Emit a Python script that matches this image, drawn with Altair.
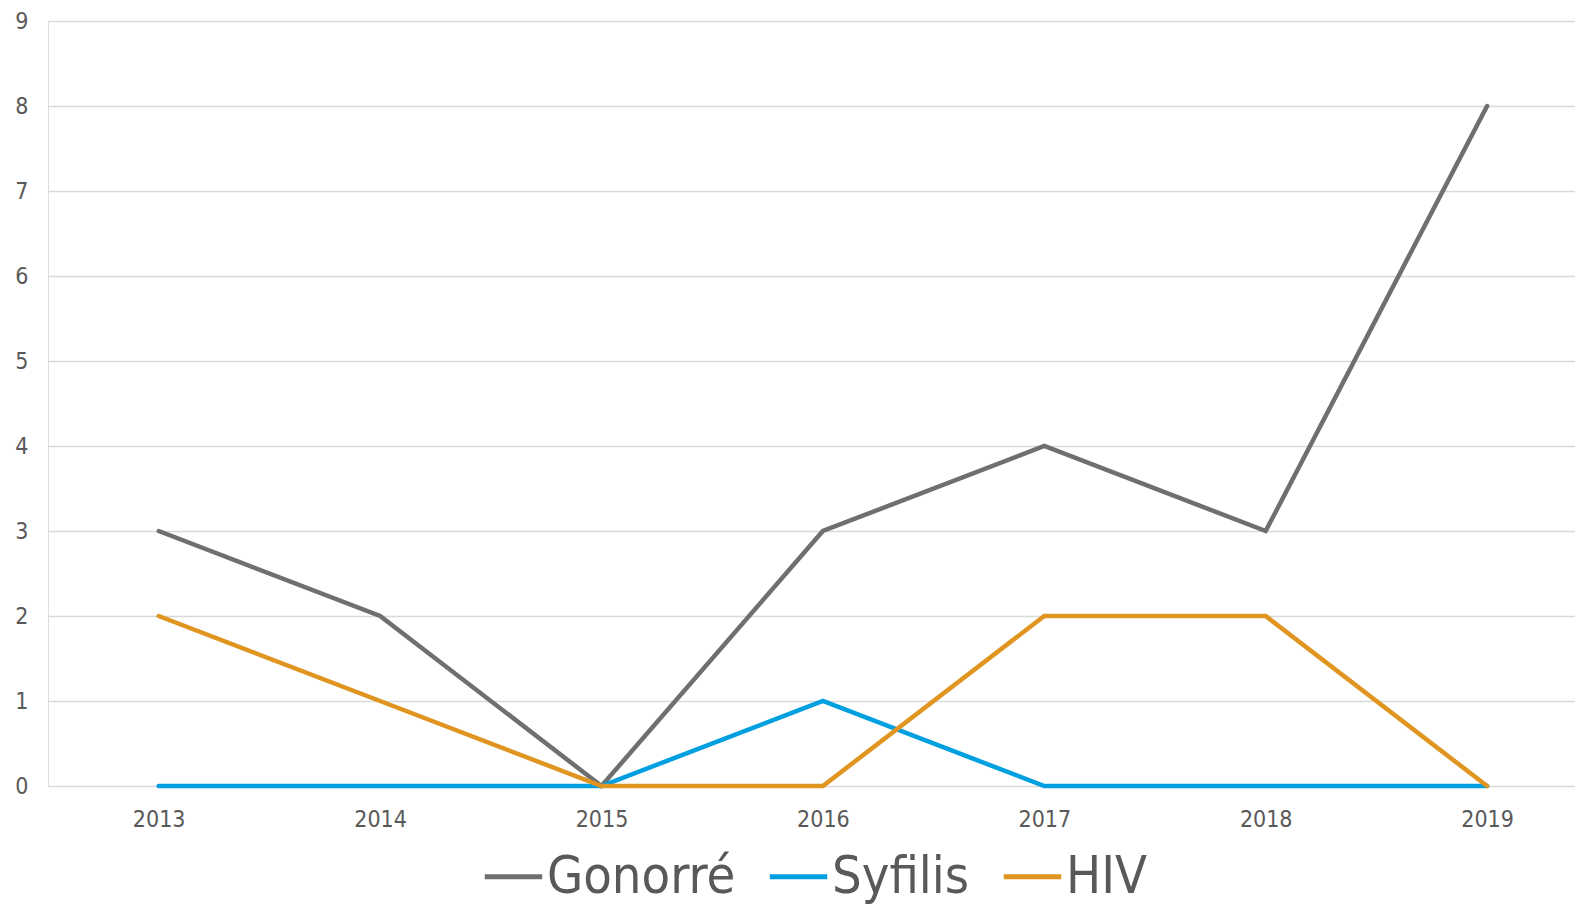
import altair as alt
import pandas as pd

years = [2013, 2014, 2015, 2016, 2017, 2018, 2019]
gonorre = [3, 2, 0, 3, 4, 3, 8]
syfilis = [0, 0, 0, 1, 0, 0, 0]
hiv = [2, 1, 0, 0, 2, 2, 0]
series_names = ["Gonorré", "Syfilis", "HIV"]
series_colors = ["#6f6f6f", "#009fdf", "#df951f"]
y_ticks = [0, 1, 2, 3, 4, 5, 6, 7, 8, 9]

rows = []
for name, vals in zip(series_names, [gonorre, syfilis, hiv]):
    for yr, v in zip(years, vals):
        rows.append({"year": yr, "value": v, "series": name})
df = pd.DataFrame(rows)

FONT = "DejaVu Sans Condensed"

base = alt.Chart(df)
color = alt.Color(
    "series:N",
    scale=alt.Scale(domain=series_names, range=series_colors),
    sort=series_names,
    legend=alt.Legend(
        title=None,
        orient="none",
        direction="horizontal",
        legendX=434,
        legendY=824,
        symbolType="stroke",
        symbolSize=3300,
        symbolStrokeWidth=5,
        labelFontSize=52,
        labelFont=FONT,
        labelColor="#595959",
        labelOffset=2,
        columnPadding=23,
        labelLimit=400,
    ),
)

layers = []
for name in series_names:
    layers.append(
        base.transform_filter(alt.datum.series == name)
        .mark_line(strokeWidth=4.5, strokeCap="round", strokeJoin="miter")
        .encode(
            x=alt.X(
                "year:Q",
                scale=alt.Scale(domain=[2012.5, 2019.397], nice=False, zero=False),
                axis=alt.Axis(
                    values=years,
                    format="d",
                    title=None,
                    grid=False,
                    ticks=False,
                    domain=False,
                    labelFont=FONT,
                    labelFontSize=23,
                    labelColor="#595959",
                    labelPadding=22,
                ),
            ),
            y=alt.Y(
                "value:Q",
                scale=alt.Scale(domain=[0, 9], nice=False),
                axis=alt.Axis(
                    values=y_ticks,
                    title=None,
                    grid=True,
                    gridColor="#d9d9d9",
                    gridWidth=1.5,
                    ticks=False,
                    domain=False,
                    labelFont=FONT,
                    labelFontSize=23,
                    labelColor="#595959",
                    labelPadding=20,
                ),
            ),
            color=color,
        )
    )

chart = (
    alt.layer(*layers)
    .properties(
        width=1527,
        height=765,
        padding={"left": 40, "top": 13, "right": 0, "bottom": 120},
        autosize=alt.AutoSizeParams(type="none"),
    )
    .configure_view(stroke=None)
    .configure(background="white")
)

chart.save("out.html", embed_options={"renderer": "svg", "actions": False})
